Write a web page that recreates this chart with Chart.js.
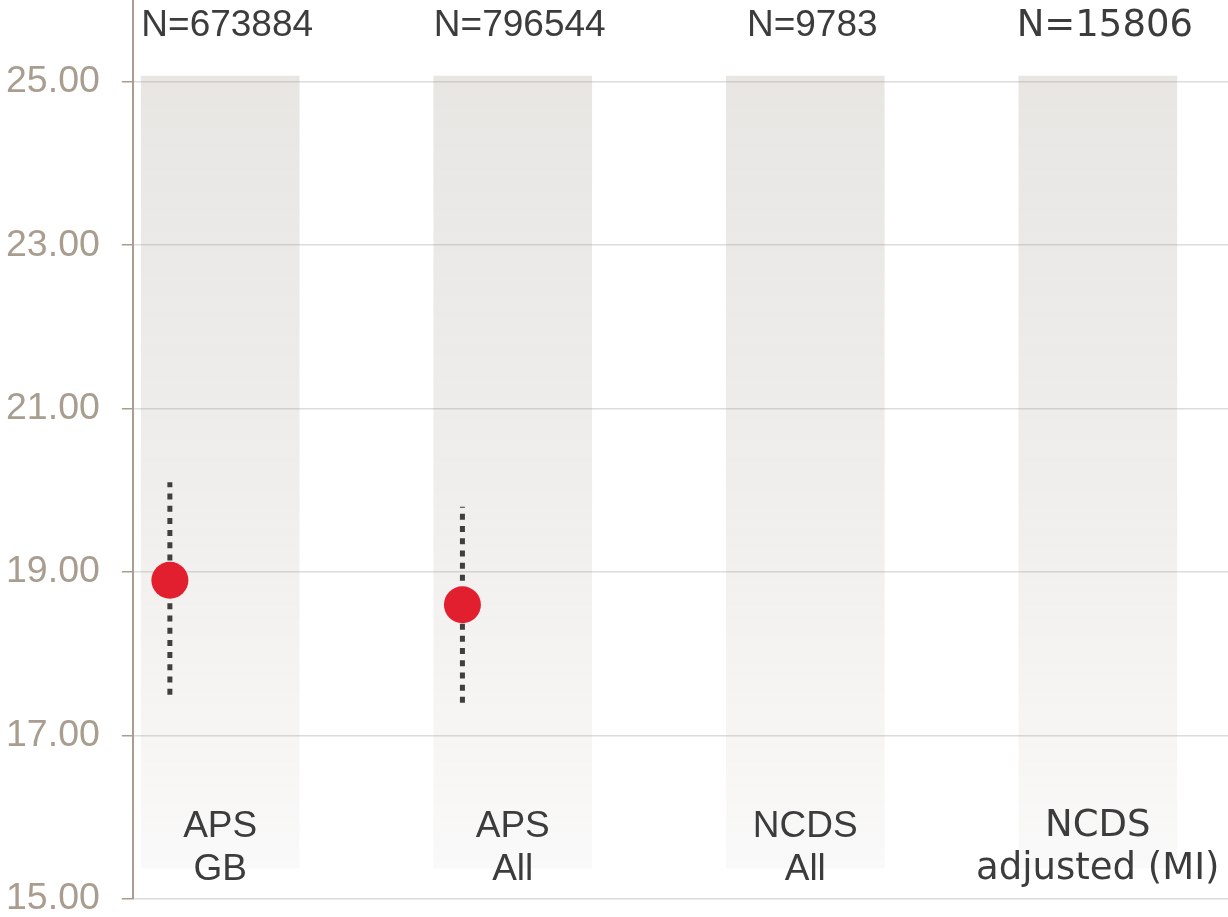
<!DOCTYPE html>
<html>
<head>
<meta charset="utf-8">
<script src="https://cdn.jsdelivr.net/npm/chart.js@4/dist/chart.umd.min.js"></script>
<style>
  html, body { margin: 0; padding: 0; background: #ffffff; }
  #chart { display: block; }
</style>
</head>
<body>
<canvas id="chart" width="1228" height="917"></canvas>
<script>
// Groups along the horizontal axis (two-line labels)
const categories = [["APS", "GB"], ["APS", "All"], ["NCDS", "All"], ["NCDS", "adjusted (MI)"]];
const sampleSizes = ["N=673884", "N=796544", "N=9783", "N=15806"];

// Point estimates and their intervals (null where no estimate is shown)
const estimates = [18.9, 18.6, null, null];
const lowerBounds = [17.5, 17.4, null, null];
const upperBounds = [20.1, 19.8, null, null];

// Background band behind each group
const bandLow = [15.38, 15.38, 15.38, 15.38];
const bandHigh = [25.07, 25.07, 25.07, 25.07];

// Y-axis tick values
const yTicks = [15, 17, 19, 21, 23, 25];

// --- styling ---
const LABEL_COLOR = "#3c3c3c";
const AXIS_COLOR = "#a99d90";
const POINT_COLOR = "#e21f2e";
const WHISKER_COLOR = "#3f3f3f";
const POINT_SHIFT = -0.172;             // points sit slightly left of the band centre
const HEADER_NUDGE = 7;                 // sample-size headers sit a little right of centre
const TICK_PAD = 22;
const groupFonts = ["'Liberation Sans', Arial", "'Liberation Sans', Arial", "'Liberation Sans', Arial", "'DejaVu Sans', Verdana"];

const bandData = categories.map((c, i) => ({ x: i, y: [bandLow[i], bandHigh[i]] }));
const pointData = categories.map((c, i) => ({ x: i + POINT_SHIFT, y: estimates[i] }));

const whiskerSets = [];
categories.forEach((c, i) => {
  if (estimates[i] === null) return;
  whiskerSets.push({
    type: "line",
    data: [{ x: i + POINT_SHIFT, y: lowerBounds[i] }, { x: i + POINT_SHIFT, y: upperBounds[i] }],
    borderColor: WHISKER_COLOR,
    borderWidth: 5,
    borderDash: [6, 6.2],
    borderCapStyle: "butt",
    pointRadius: 0,
    fill: false,
    order: 1
  });
});

const textPlugin = {
  id: "groupText",
  afterDatasetsDraw(chart) {
    const ctx = chart.ctx;
    const xs = chart.scales.x;
    const ys = chart.scales.y;
    ctx.save();
    ctx.fillStyle = LABEL_COLOR;
    ctx.textAlign = "center";
    ctx.textBaseline = "middle";
    categories.forEach((lines, i) => {
      const cx = xs.getPixelForValue(i);
      ctx.font = "37px " + groupFonts[i];
      ctx.fillText(sampleSizes[i], cx + HEADER_NUDGE, 26);
      lines.forEach((line, k) => {
        ctx.fillText(line, cx, ys.getPixelForValue(15.9) + 1 + k * 43);
      });
    });
    ctx.restore();
  }
};

const canvas = document.getElementById("chart");
const ctx2d = canvas.getContext("2d");

new Chart(ctx2d, {
  data: {
    datasets: [
      {
        type: "scatter",
        data: pointData,
        pointRadius: 18.5,
        pointHoverRadius: 18.5,
        pointBackgroundColor: POINT_COLOR,
        pointBorderWidth: 0,
        clip: false,
        order: 0
      },
      ...whiskerSets,
      {
        type: "bar",
        data: bandData,
        barThickness: 158,
        borderWidth: 0,
        backgroundColor(context) {
          const chart = context.chart;
          const ys = chart.scales.y;
          if (!chart.chartArea || !ys) return "rgba(165,155,145,0.18)";
          const top = ys.getPixelForValue(bandHigh[0]);
          const bottom = ys.getPixelForValue(bandLow[0]);
          const g = chart.ctx.createLinearGradient(0, top, 0, bottom);
          g.addColorStop(0, "rgba(160,150,140,0.24)");
          g.addColorStop(0.5, "rgba(160,150,140,0.165)");
          g.addColorStop(1, "rgba(160,150,140,0.055)");
          return g;
        },
        order: 2
      }
    ]
  },
  options: {
    responsive: false,
    animation: false,
    devicePixelRatio: 1,
    layout: { autoPadding: false, padding: { left: 6, right: 0, top: 0, bottom: 18 } },
    plugins: {
      legend: { display: false },
      tooltip: { enabled: false }
    },
    scales: {
      x: {
        type: "linear",
        min: -0.2986,
        max: 3.445,
        offset: false,
        display: false
      },
      y: {
        type: "linear",
        min: 15,
        max: 26,
        afterBuildTicks(scale) {
          scale.ticks = yTicks.map(v => ({ value: v }));
        },
        afterFit(scale) {
          scale.paddingTop = 0;
          scale.paddingBottom = 0;
          // keep only one label gap between the tick labels and the tick marks
          scale.width -= TICK_PAD;
        },
        ticks: {
          color: AXIS_COLOR,
          padding: TICK_PAD,
          font: { family: "'Liberation Sans', Arial", size: 37.5 },
          callback: v => Number(v).toFixed(2)
        },
        grid: {
          color: "#dcdcdc",
          lineWidth: 1.5,
          tickColor: AXIS_COLOR,
          tickLength: 11,
          drawTicks: true
        },
        border: { display: true, color: AXIS_COLOR, width: 2 }
      }
    }
  },
  plugins: [textPlugin]
});
</script>
</body>
</html>
